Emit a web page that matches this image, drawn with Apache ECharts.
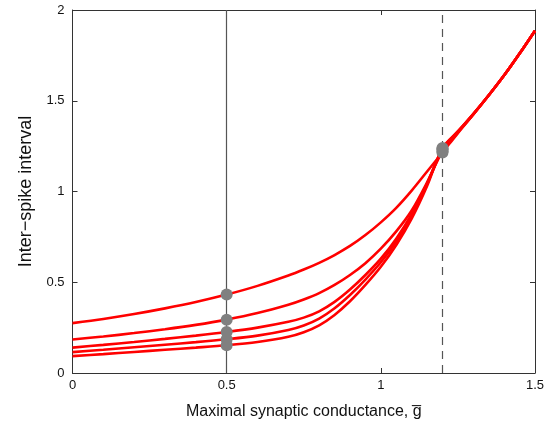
<!DOCTYPE html>
<html>
<head>
<meta charset="utf-8">
<script src="https://cdn.jsdelivr.net/npm/echarts@6/dist/echarts.min.js"></script>
<style>
  html, body { margin: 0; padding: 0; background: #fff; }
  #chart { width: 558px; height: 432px; }
</style>
</head>
<body>
<div id="chart"></div>
<script>
// Maximal synaptic conductance samples
const gValues = [0, 0.1, 0.2, 0.3, 0.4, 0.5, 0.6, 0.7, 0.75, 0.8, 0.85, 0.9, 0.95,
                 1.0, 1.05, 1.1, 1.15, 1.2, 1.25, 1.3, 1.35, 1.4, 1.45, 1.5];

// Inter-spike interval for each of the five cells
const isiA = [0.275, 0.298, 0.325, 0.356, 0.391, 0.432, 0.480, 0.537, 0.570, 0.607, 0.650, 0.700, 0.760,
              0.830, 0.910, 1.005, 1.110, 1.215, 1.322, 1.424, 1.530, 1.640, 1.760, 1.886];
const isiB = [0.185, 0.201, 0.220, 0.241, 0.265, 0.294, 0.330, 0.376, 0.405, 0.440, 0.485, 0.540, 0.605,
              0.685, 0.780, 0.895, 1.050, 1.222, 1.325, 1.425, 1.530, 1.640, 1.760, 1.886];
const isiC = [0.140, 0.155, 0.171, 0.188, 0.206, 0.226, 0.250, 0.282, 0.305, 0.340, 0.392, 0.460, 0.540,
              0.630, 0.740, 0.875, 1.045, 1.230, 1.328, 1.426, 1.530, 1.640, 1.760, 1.886];
const isiD = [0.115, 0.128, 0.142, 0.156, 0.170, 0.186, 0.206, 0.237, 0.262, 0.300, 0.357, 0.430, 0.515,
              0.610, 0.725, 0.865, 1.040, 1.235, 1.330, 1.427, 1.530, 1.640, 1.760, 1.886];
const isiE = [0.093, 0.104, 0.116, 0.128, 0.140, 0.153, 0.171, 0.200, 0.225, 0.263, 0.320, 0.395, 0.485,
              0.585, 0.705, 0.850, 1.030, 1.240, 1.332, 1.428, 1.530, 1.640, 1.760, 1.886];

// Conductances marked by the vertical reference lines
const markSolid = 0.5;
const markDashed = 1.2;

const xTicks = [0, 0.5, 1, 1.5];
const yTicks = [0, 0.5, 1, 1.5, 2];

const curves = [isiA, isiB, isiC, isiD, isiE];
const font = 'Liberation Sans, Arial, Helvetica, sans-serif';
const axisColor = '#333';

function pairs(ys) { return gValues.map((g, i) => [g, ys[i]]); }

const iSolid = gValues.indexOf(markSolid);
const iDashed = gValues.indexOf(markDashed);
const dots = [];
curves.forEach(c => { dots.push([markSolid, c[iSolid]]); });
curves.forEach(c => { dots.push([markDashed, c[iDashed]]); });

const chart = echarts.init(document.getElementById('chart'), null, { renderer: 'canvas' });

const series = [];
// vertical reference lines
series.push({
  type: 'line',
  data: [],
  silent: true,
  z: 1,
  markLine: {
    silent: true,
    symbol: ['none', 'none'],
    label: { show: false },
    animation: false,
    data: [
      { xAxis: markSolid, lineStyle: { type: 'solid', color: '#555', width: 1.2 } },
      { xAxis: markDashed, lineStyle: { type: [8, 6], color: '#555', width: 1.2 } }
    ]
  }
});
curves.forEach((c, k) => {
  series.push({
    type: 'line',
    name: 'cell ' + (k + 1),
    data: pairs(c),
    smooth: 0.3,
    showSymbol: false,
    symbol: 'none',
    z: 3,
    lineStyle: { color: '#ff0000', width: 2.6 },
    itemStyle: { color: '#ff0000' }
  });
});
series.push({
  type: 'scatter',
  data: dots,
  symbolSize: 12,
  z: 5,
  itemStyle: { color: '#808080', opacity: 1 }
});

function boxAxis(extra) {
  return Object.assign({
    type: 'value',
    axisLine: { show: true, onZero: false, lineStyle: { color: axisColor, width: 1 } },
    axisTick: { show: true, inside: true, length: 5, lineStyle: { color: axisColor } },
    splitLine: { show: false }
  }, extra);
}

const option = {
  animation: false,
  backgroundColor: '#fff',
  grid: { left: 72.5, right: 23, top: 10, bottom: 59, containLabel: false },
  xAxis: [
    boxAxis({
      min: 0, max: 1.5, interval: 0.5, position: 'bottom',
      name: 'Maximal synaptic conductance, g\u0305',
      nameLocation: 'middle', nameGap: 31,
      nameTextStyle: { fontFamily: font, fontSize: 16, color: '#111' },
      axisLabel: { fontFamily: font, fontSize: 13, color: '#111', margin: 6,
                   formatter: v => xTicks.includes(v) ? String(v) : '' }
    }),
    boxAxis({
      min: 0, max: 1.5, interval: 0.5, position: 'top',
      axisLabel: { show: false }
    })
  ],
  yAxis: [
    boxAxis({
      min: 0, max: 2, interval: 0.5, position: 'left',
      name: 'Inter\u2212spike interval',
      nameLocation: 'middle', nameGap: 33,
      nameTextStyle: { fontFamily: font, fontSize: 18, color: '#111' },
      axisLabel: { fontFamily: font, fontSize: 13, color: '#111', margin: 8,
                   formatter: v => yTicks.includes(v) ? String(v) : '' }
    }),
    boxAxis({
      min: 0, max: 2, interval: 0.5, position: 'right',
      axisLabel: { show: false }
    })
  ],
  series: series
};

chart.setOption(option);
</script>
</body>
</html>
